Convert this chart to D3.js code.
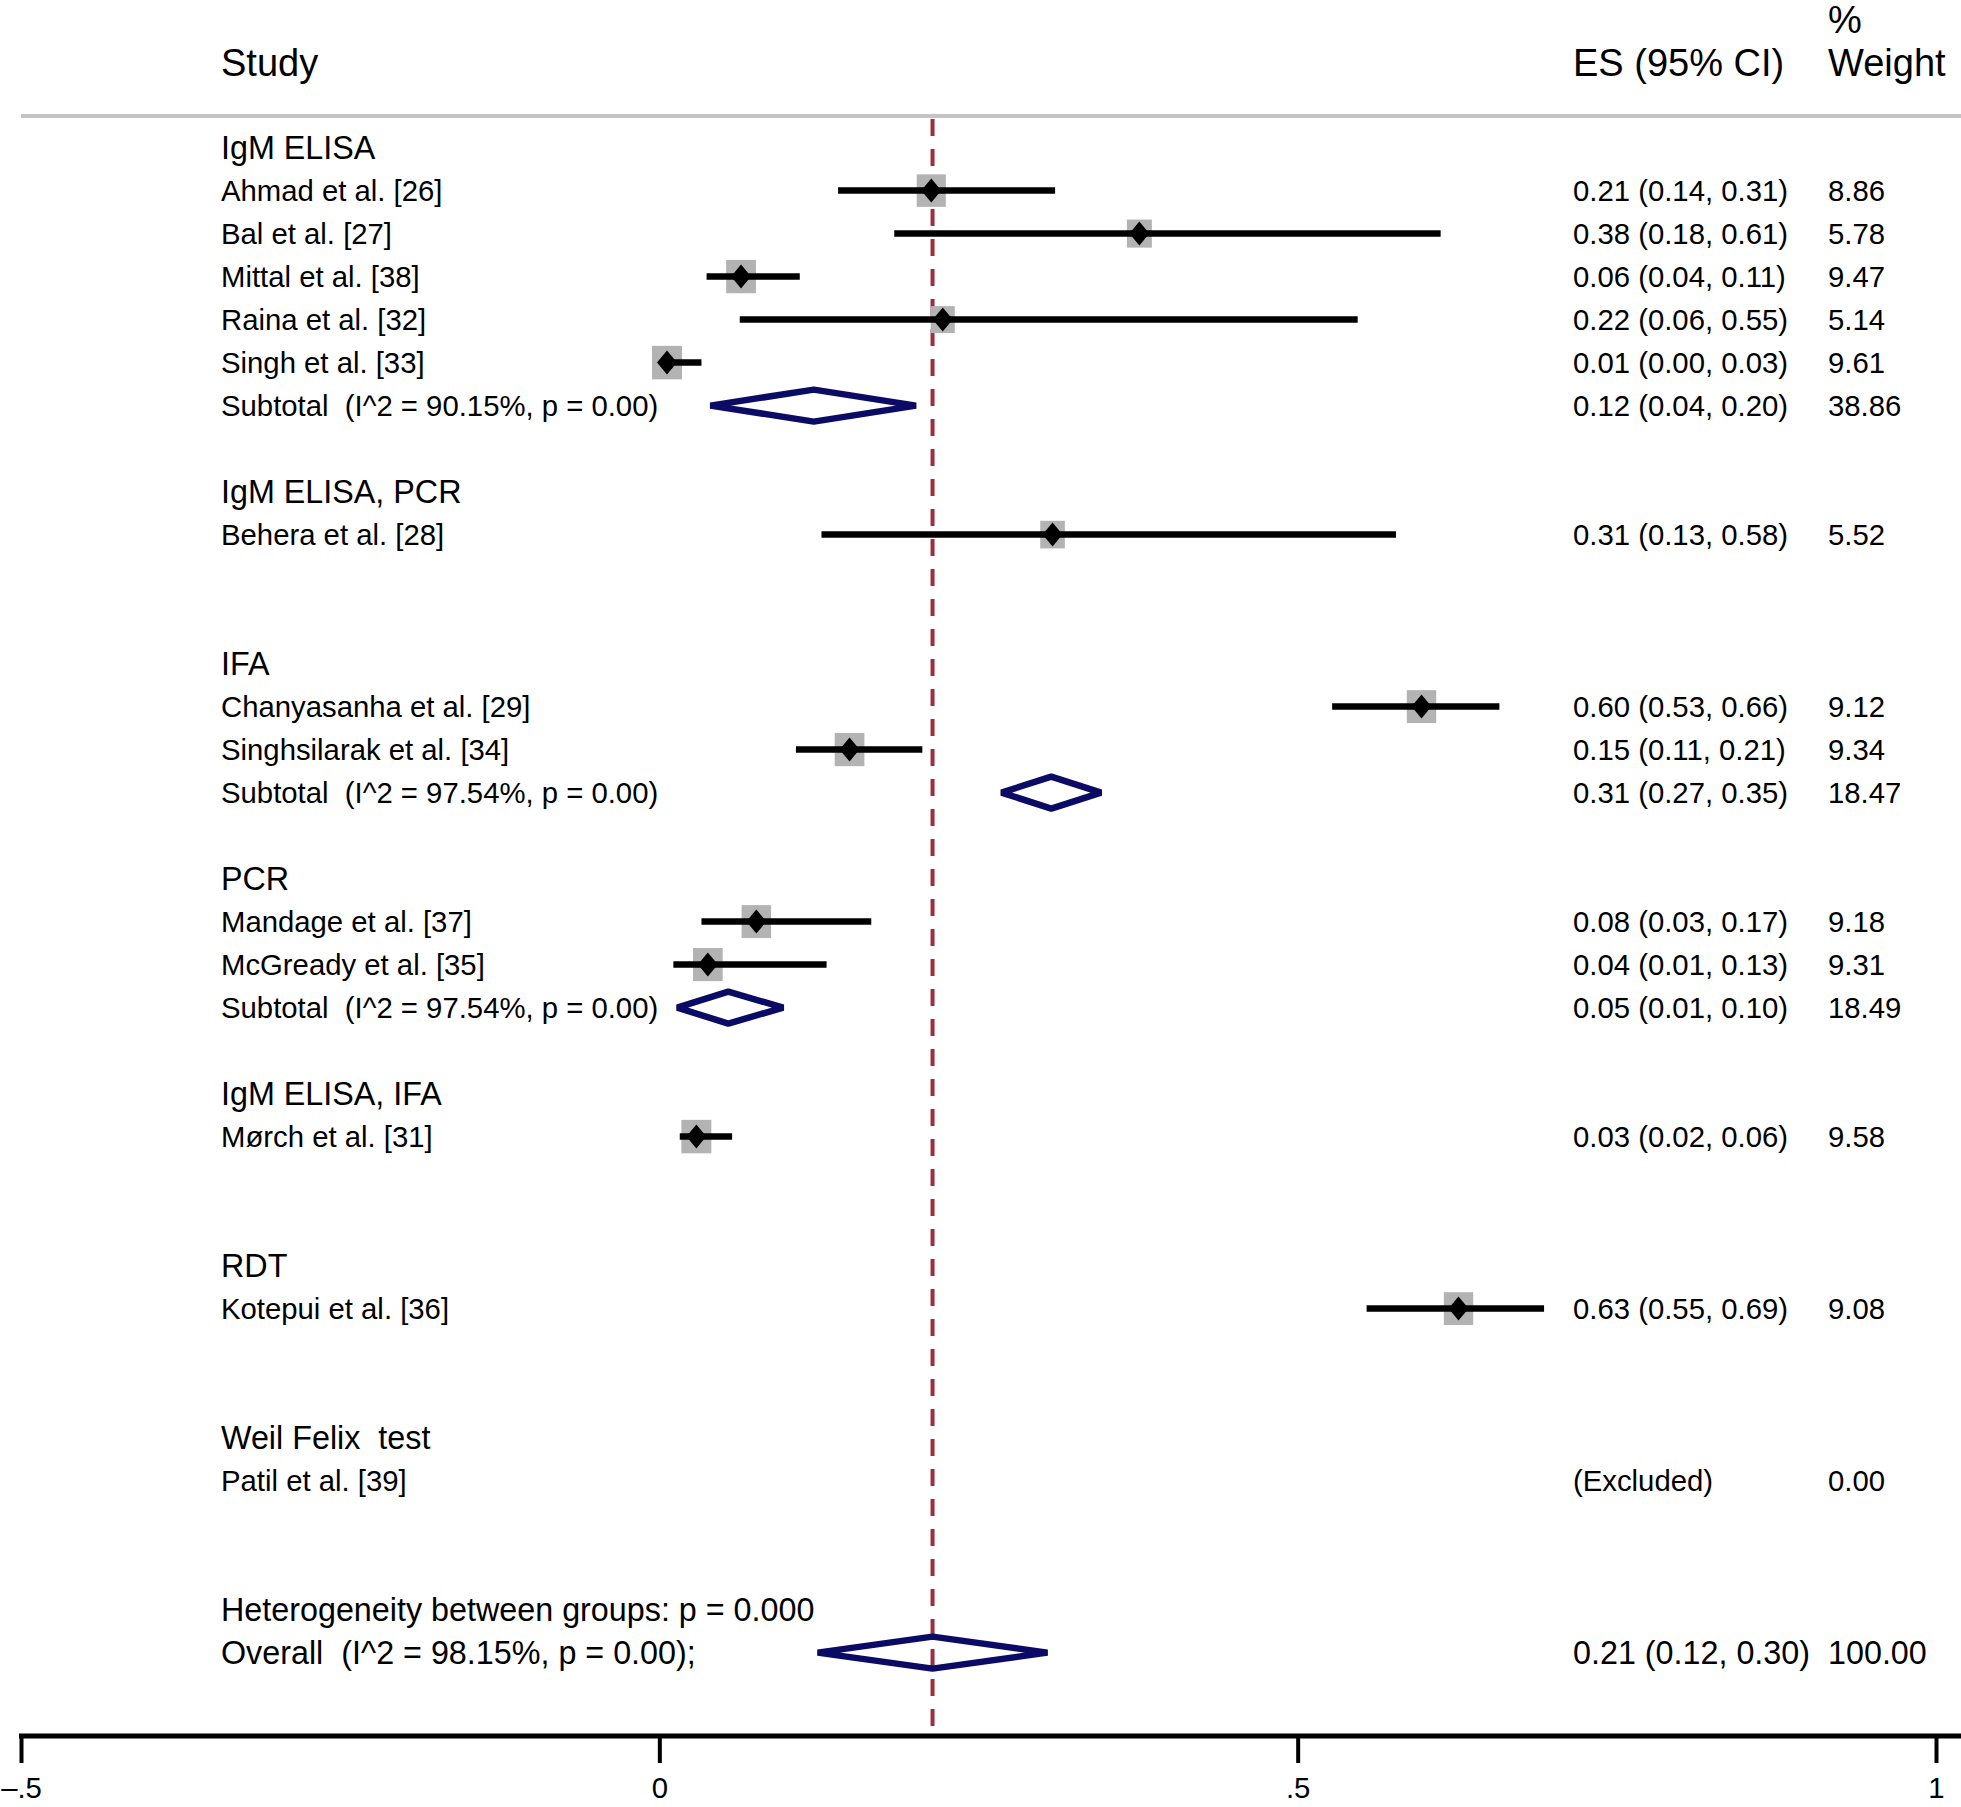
<!DOCTYPE html>
<html>
<head>
<meta charset="utf-8">
<script src="https://cdn.jsdelivr.net/npm/d3@7/dist/d3.min.js"></script>
<style>
  html, body { margin: 0; padding: 0; background: #fff; }
  svg { display: block; }
  text { font-family: "Liberation Sans", Arial, Helvetica, sans-serif; fill: #000; white-space: pre; }
</style>
</head>
<body>
<svg id="chart" width="1961" height="1807"></svg>
<script>
// ---------------- data ----------------
const groupLabels = ["IgM ELISA", "IgM ELISA, PCR", "IFA", "PCR", "IgM ELISA, IFA", "RDT", "Weil Felix  test"];
const groupRows   = [0, 8, 12, 17, 22, 26, 30];

const studyLabels = ["Ahmad et al. [26]", "Bal et al. [27]", "Mittal et al. [38]", "Raina et al. [32]", "Singh et al. [33]",
                     "Behera et al. [28]", "Chanyasanha et al. [29]", "Singhsilarak et al. [34]",
                     "Mandage et al. [37]", "McGready et al. [35]", "Mørch et al. [31]", "Kotepui et al. [36]", "Patil et al. [39]"];
const studyRows   = [1, 2, 3, 4, 5, 9, 13, 14, 18, 19, 23, 27, 31];
const studyES     = [0.213, 0.376, 0.064, 0.222, 0.006, 0.308, 0.597, 0.149, 0.076, 0.038, 0.029, 0.626, null];
const studyLo     = [0.140, 0.184, 0.037, 0.063, 0.002, 0.127, 0.527, 0.107, 0.033, 0.011, 0.016, 0.554, null];
const studyHi     = [0.310, 0.612, 0.110, 0.547, 0.033, 0.577, 0.658, 0.206, 0.166, 0.131, 0.057, 0.693, null];
const studyWeight = [8.86, 5.78, 9.47, 5.14, 9.61, 5.52, 9.12, 9.34, 9.18, 9.31, 9.58, 9.08, 0.00];

const subLabels = ["Subtotal  (I^2 = 90.15%, p = 0.00)", "Subtotal  (I^2 = 97.54%, p = 0.00)", "Subtotal  (I^2 = 97.54%, p = 0.00)"];
const subRows   = [6, 15, 20];
const subES     = [0.121, 0.307, 0.054];
const subLo     = [0.040, 0.268, 0.014];
const subHi     = [0.201, 0.346, 0.097];
const subWeight = [38.86, 18.47, 18.49];

const hetLabel = "Heterogeneity between groups: p = 0.000";
const hetRow = 34;
const overallLabel = "Overall  (I^2 = 98.15%, p = 0.00);";
const overallRow = 35;
const overallES = 0.214, overallLo = 0.124, overallHi = 0.304, overallWeight = 100.00;

const xTicks = [-0.5, 0, 0.5, 1];
const xTickLabels = ["\u2013.5", "0", ".5", "1"];

// ---------------- layout ----------------
const W = 1961, H = 1807;
const svg = d3.select("#chart");
const x = d3.scaleLinear().domain([-0.5, 1]).range([21, 1936]);
const y = d3.scaleLinear().domain([0, 35]).range([147.6, 1652.6]);
// box side grows with sqrt(weight)
const boxW = d3.scaleLinear().domain([Math.sqrt(5.14), Math.sqrt(9.61)]).range([24, 30]);
const boxH = d3.scaleLinear().domain([Math.sqrt(5.14), Math.sqrt(9.61)]).range([27, 33.5]);
const f2 = d3.format(".2f");
const esText = (e, l, h) => `${f2(e)} (${f2(l)}, ${f2(h)})`;

const textX = 221, esX = 1573, wX = 1828;
const axisY = 1736;
const NAVY = "#0b0b66", RED = "#9c2f3b", GRAY = "#b3b3b3";

// header
svg.append("text").attr("x", textX).attr("y", 62).attr("dy", "0.36em").attr("font-size", 38).text("Study");
svg.append("text").attr("x", esX).attr("y", 62).attr("dy", "0.36em").attr("font-size", 38).text("ES (95% CI)");
svg.append("text").attr("x", wX).attr("y", 19).attr("dy", "0.36em").attr("font-size", 38).text("%");
svg.append("text").attr("x", wX).attr("y", 62).attr("dy", "0.36em").attr("font-size", 38).text("Weight");
svg.append("line").attr("x1", 21).attr("x2", W).attr("y1", 116).attr("y2", 116)
  .attr("stroke", "#c4c4c4").attr("stroke-width", 4);

// overall dashed line (behind everything)
svg.append("line").attr("x1", x(overallES)).attr("x2", x(overallES))
  .attr("y1", 119).attr("y2", axisY - 3)
  .attr("stroke", RED).attr("stroke-width", 4).attr("stroke-dasharray", "17,13");

// group headings
svg.append("g").selectAll("text").data(groupLabels).join("text")
  .attr("x", textX).attr("y", (d, i) => y(groupRows[i])).attr("dy", "0.36em")
  .attr("font-size", 32.3).text(d => d);

// studies
const studies = studyLabels.map((d, i) => ({
  label: d, row: studyRows[i], es: studyES[i], lo: studyLo[i], hi: studyHi[i], w: studyWeight[i]
}));
const sg = svg.append("g");
sg.selectAll("text.lab").data(studies).join("text").attr("class", "lab")
  .attr("x", textX).attr("y", d => y(d.row)).attr("dy", "0.36em").attr("font-size", 29.3).text(d => d.label);
sg.selectAll("text.es").data(studies).join("text").attr("class", "es")
  .attr("x", esX).attr("y", d => y(d.row)).attr("dy", "0.36em").attr("font-size", 29.3)
  .text(d => d.es == null ? "(Excluded)" : esText(d.es, d.lo, d.hi));
sg.selectAll("text.w").data(studies).join("text").attr("class", "w")
  .attr("x", wX).attr("y", d => y(d.row)).attr("dy", "0.36em").attr("font-size", 29.3).text(d => f2(d.w));

const inc = studies.filter(d => d.es != null);
sg.selectAll("rect").data(inc).join("rect")
  .attr("x", d => x(d.es) - boxW(Math.sqrt(d.w)) / 2).attr("y", d => y(d.row) - boxH(Math.sqrt(d.w)) / 2)
  .attr("width", d => boxW(Math.sqrt(d.w))).attr("height", d => boxH(Math.sqrt(d.w))).attr("fill", GRAY);
sg.selectAll("line").data(inc).join("line")
  .attr("x1", d => x(d.lo)).attr("x2", d => x(d.hi))
  .attr("y1", d => y(d.row)).attr("y2", d => y(d.row))
  .attr("stroke", "#000").attr("stroke-width", 6.5);
sg.selectAll("path").data(inc).join("path")
  .attr("d", d => {
    const cx = x(d.es), cy = y(d.row), hw = 10, hh = 12;
    return `M${cx - hw},${cy}L${cx},${cy - hh}L${cx + hw},${cy}L${cx},${cy + hh}Z`;
  })
  .attr("fill", "#000");

// subtotals
const subs = subLabels.map((d, i) => ({
  label: d, row: subRows[i], es: subES[i], lo: subLo[i], hi: subHi[i], w: subWeight[i]
}));
const diamond = d => {
  const cy = y(d.row), hh = 16;
  return `M${x(d.lo)},${cy}L${x(d.es)},${cy - hh}L${x(d.hi)},${cy}L${x(d.es)},${cy + hh}Z`;
};
const bg = svg.append("g");
bg.selectAll("text.lab").data(subs).join("text").attr("class", "lab")
  .attr("x", textX).attr("y", d => y(d.row)).attr("dy", "0.36em").attr("font-size", 29.3).text(d => d.label);
bg.selectAll("text.es").data(subs).join("text").attr("class", "es")
  .attr("x", esX).attr("y", d => y(d.row)).attr("dy", "0.36em").attr("font-size", 29.3)
  .text(d => esText(d.es, d.lo, d.hi));
bg.selectAll("text.w").data(subs).join("text").attr("class", "w")
  .attr("x", wX).attr("y", d => y(d.row)).attr("dy", "0.36em").attr("font-size", 29.3).text(d => f2(d.w));
bg.selectAll("path").data(subs).join("path")
  .attr("d", diamond).attr("fill", "none").attr("stroke", NAVY).attr("stroke-width", 6.5).attr("stroke-linejoin", "bevel");

// heterogeneity & overall
svg.append("text").attr("x", textX).attr("y", y(hetRow)).attr("dy", "0.36em").attr("font-size", 32.3).text(hetLabel);
svg.append("text").attr("x", textX).attr("y", y(overallRow)).attr("dy", "0.36em").attr("font-size", 32.3).text(overallLabel);
svg.append("text").attr("x", esX).attr("y", y(overallRow)).attr("dy", "0.36em").attr("font-size", 32.3)
  .text(esText(overallES, overallLo, overallHi));
svg.append("text").attr("x", wX).attr("y", y(overallRow)).attr("dy", "0.36em").attr("font-size", 32.3).text(f2(overallWeight));
svg.append("path").attr("d", diamond({row: overallRow, es: overallES, lo: overallLo, hi: overallHi}))
  .attr("fill", "none").attr("stroke", NAVY).attr("stroke-width", 6.5).attr("stroke-linejoin", "bevel");

// axis
const ax = svg.append("g").attr("transform", `translate(0,${axisY})`)
  .call(d3.axisBottom(x).tickValues(xTicks).tickFormat((d, i) => xTickLabels[i]).tickSize(27).tickSizeOuter(0).tickPadding(14));
ax.select(".domain").remove();
ax.selectAll(".tick line").attr("stroke", "#000").attr("stroke-width", 4);
ax.selectAll(".tick text").attr("font-size", 29.3).attr("font-family", "Liberation Sans, Arial, sans-serif").attr("fill", "#000");
svg.append("line").attr("x1", x(-0.5) - 2).attr("x2", W).attr("y1", axisY).attr("y2", axisY)
  .attr("stroke", "#000").attr("stroke-width", 5);
</script>
</body>
</html>
